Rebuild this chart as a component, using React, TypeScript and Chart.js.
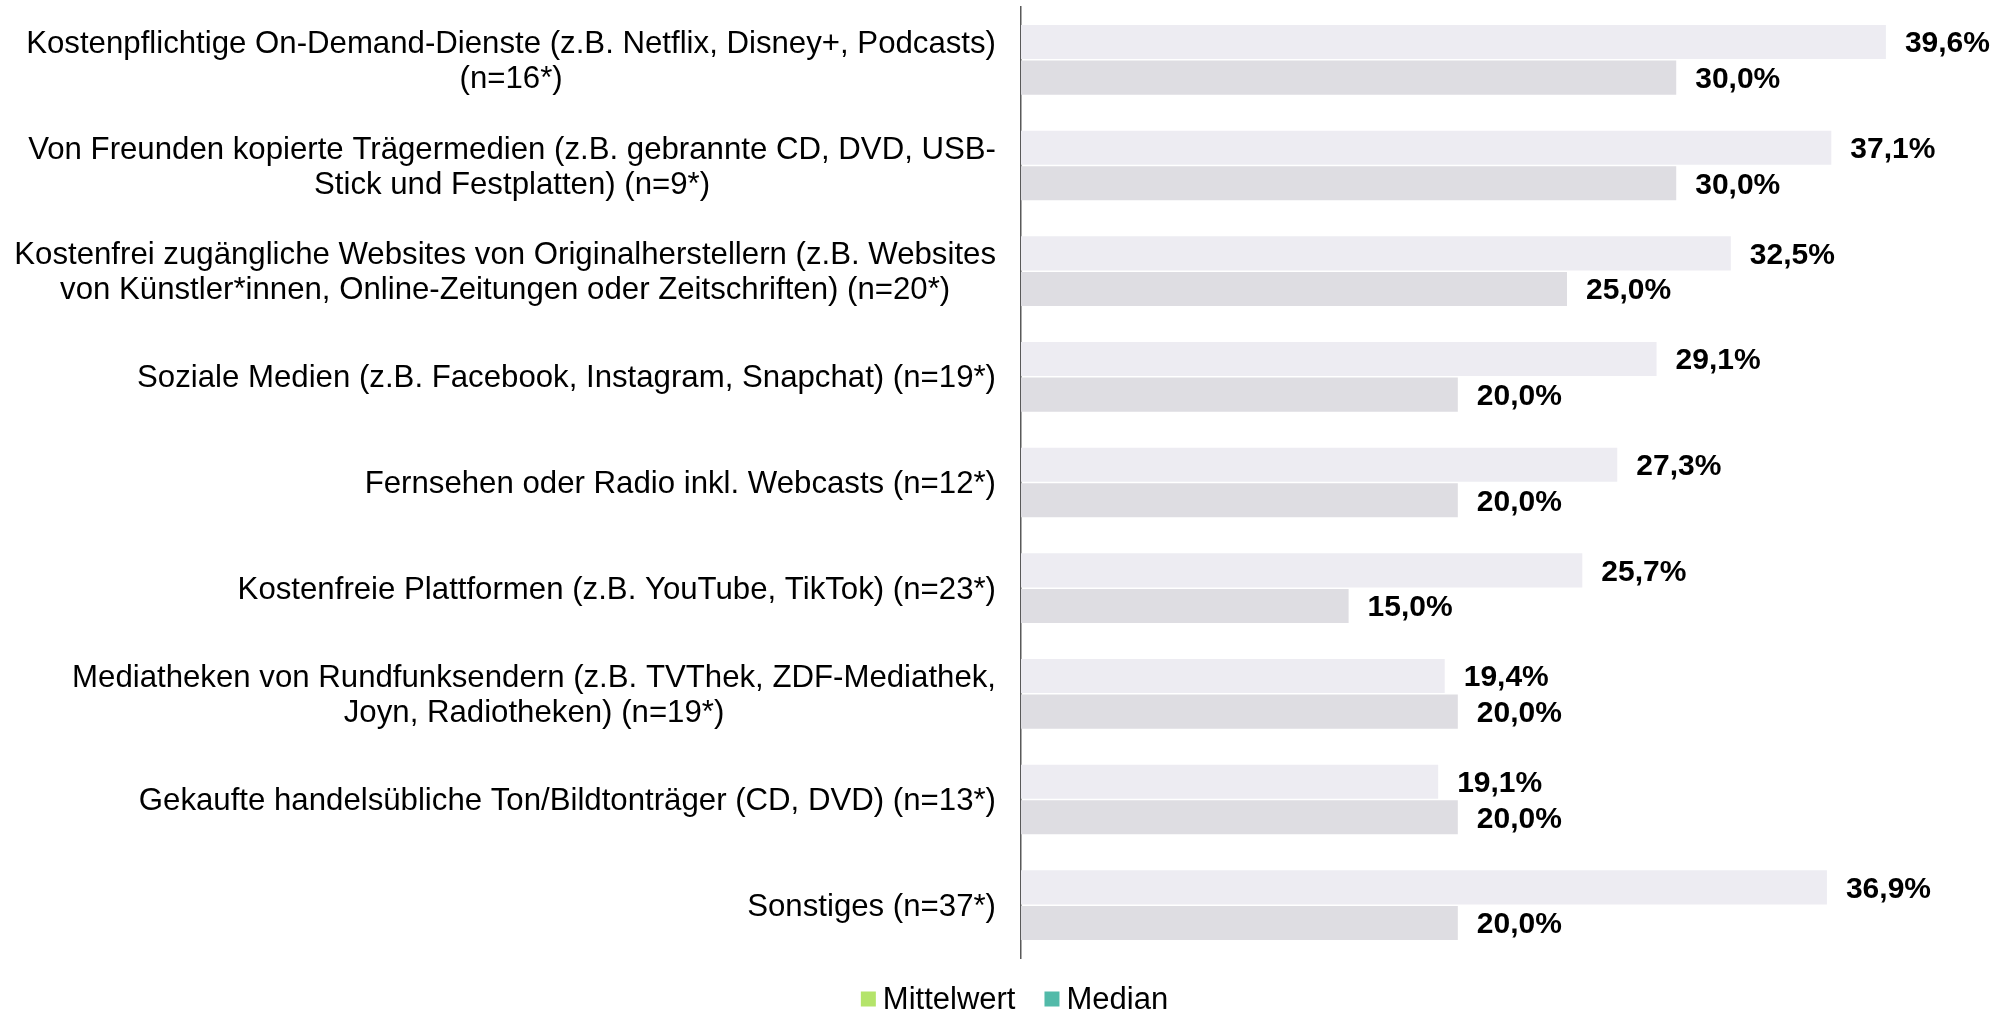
import React, { useEffect, useRef } from "react";
import { Chart, registerables } from "chart.js";

Chart.register(...registerables);

const categories: string[][] = [
  ["Kostenpflichtige On-Demand-Dienste (z.B. Netflix, Disney+, Podcasts)", "(n=16*)"],
  ["Von Freunden kopierte Trägermedien (z.B. gebrannte CD, DVD, USB-", "Stick und Festplatten) (n=9*)"],
  ["Kostenfrei zugängliche Websites von Originalherstellern (z.B. Websites", "von Künstler*innen, Online-Zeitungen oder Zeitschriften) (n=20*)"],
  ["Soziale Medien (z.B. Facebook, Instagram, Snapchat) (n=19*)"],
  ["Fernsehen oder Radio inkl. Webcasts (n=12*)"],
  ["Kostenfreie Plattformen (z.B. YouTube, TikTok) (n=23*)"],
  ["Mediatheken von Rundfunksendern (z.B. TVThek, ZDF-Mediathek,", "Joyn, Radiotheken) (n=19*)"],
  ["Gekaufte handelsübliche Ton/Bildtonträger (CD, DVD) (n=13*)"],
  ["Sonstiges (n=37*)"],
];

const mittelwert: number[] = [39.6, 37.1, 32.5, 29.1, 27.3, 25.7, 19.4, 19.1, 36.9];
const median: number[] = [30.0, 30.0, 25.0, 20.0, 20.0, 15.0, 20.0, 20.0, 20.0];

const seriesNames: string[] = ["Mittelwert", "Median"];
const barColors: string[] = ["#EDECF2", "#DEDDE2"];
const legendColors: string[] = ["#B4E46A", "#52BAA9"];

const FONT = '"Liberation Sans", Arial, sans-serif';

const categoryLabelPlugin = {
  id: "categoryLabels",
  afterDraw(chart: any) {
    const ctx = chart.ctx;
    const scale = chart.scales.y;
    ctx.save();
    ctx.font = `31.2px ${FONT}`;
    ctx.fillStyle = "#000000";
    ctx.textAlign = "center";
    ctx.textBaseline = "middle";
    const lh = 35;
    const rightEdge = scale.right - 25;
    categories.forEach((lines, i) => {
      const y = scale.getPixelForTick(i) + 2;
      const maxW = Math.max(...lines.map((l) => ctx.measureText(l).width));
      const cx = rightEdge - maxW / 2;
      const startY = y - ((lines.length - 1) * lh) / 2;
      lines.forEach((l, j) => ctx.fillText(l, cx, startY + j * lh));
    });
    ctx.restore();
  },
};

const valueLabelPlugin = {
  id: "valueLabels",
  afterDatasetsDraw(chart: any) {
    const ctx = chart.ctx;
    ctx.save();
    ctx.font = `bold 30px ${FONT}`;
    ctx.fillStyle = "#000000";
    ctx.textAlign = "left";
    ctx.textBaseline = "middle";
    chart.data.datasets.forEach((ds: any, di: number) => {
      const meta = chart.getDatasetMeta(di);
      meta.data.forEach((el: any, i: number) => {
        const v = ds.data[i] as number;
        const txt = v.toFixed(1).replace(".", ",") + "%";
        ctx.fillText(txt, el.x + 19, el.y + 2);
      });
    });
    ctx.restore();
  },
};

const legendPlugin = {
  id: "customLegend",
  afterDraw(chart: any) {
    const ctx = chart.ctx;
    ctx.save();
    ctx.font = `31px ${FONT}`;
    ctx.textBaseline = "middle";
    ctx.textAlign = "left";
    const box = 15;
    const gapText = 7;
    const gapItem = 29;
    const widths = seriesNames.map((n) => ctx.measureText(n).width);
    const total = widths.reduce((a, w) => a + box + gapText + w, 0) + gapItem * (seriesNames.length - 1);
    let x = chart.width / 2 + 14 - total / 2;
    const cy = chart.chartArea.bottom + 41;
    seriesNames.forEach((n, i) => {
      ctx.fillStyle = legendColors[i];
      ctx.fillRect(x, cy - box / 2, box, box);
      x += box + gapText;
      ctx.fillStyle = "#000000";
      ctx.fillText(n, x, cy + 1);
      x += widths[i] + gapItem;
    });
    ctx.restore();
  },
};

export default function App() {
  const ref = useRef<HTMLCanvasElement | null>(null);
  useEffect(() => {
    if (!ref.current) return;
    const chart = new Chart(ref.current, {
      type: "bar",
      data: {
        labels: categories.map((c) => c.join(" ")),
        datasets: [
          {
            label: seriesNames[0],
            data: mittelwert,
            backgroundColor: barColors[0],
            categoryPercentage: 0.672,
            barPercentage: 0.96,
          },
          {
            label: seriesNames[1],
            data: median,
            backgroundColor: barColors[1],
            categoryPercentage: 0.672,
            barPercentage: 0.96,
          },
        ],
      },
      options: {
        indexAxis: "y",
        responsive: false,
        animation: false,
        devicePixelRatio: 1,
        layout: { padding: { top: 7, bottom: 55, left: 0, right: 19 } },
        plugins: {
          legend: { display: false },
          tooltip: { enabled: false },
        },
        scales: {
          x: {
            display: false,
            min: 0,
            max: 44,
          },
          y: {
            grid: { display: false },
            border: { display: true, color: "#595959", width: 1.5 },
            ticks: { display: false },
            afterFit: (scale: any) => {
              scale.width = 1021;
            },
          },
        },
      },
      plugins: [categoryLabelPlugin, valueLabelPlugin, legendPlugin],
    });
    return () => chart.destroy();
  }, []);
  return (
    <div style={{ position: "fixed", left: 0, top: 0, width: 2001, height: 1013, background: "#ffffff" }}>
      <canvas ref={ref} width={2001} height={1013} />
    </div>
  );
}
